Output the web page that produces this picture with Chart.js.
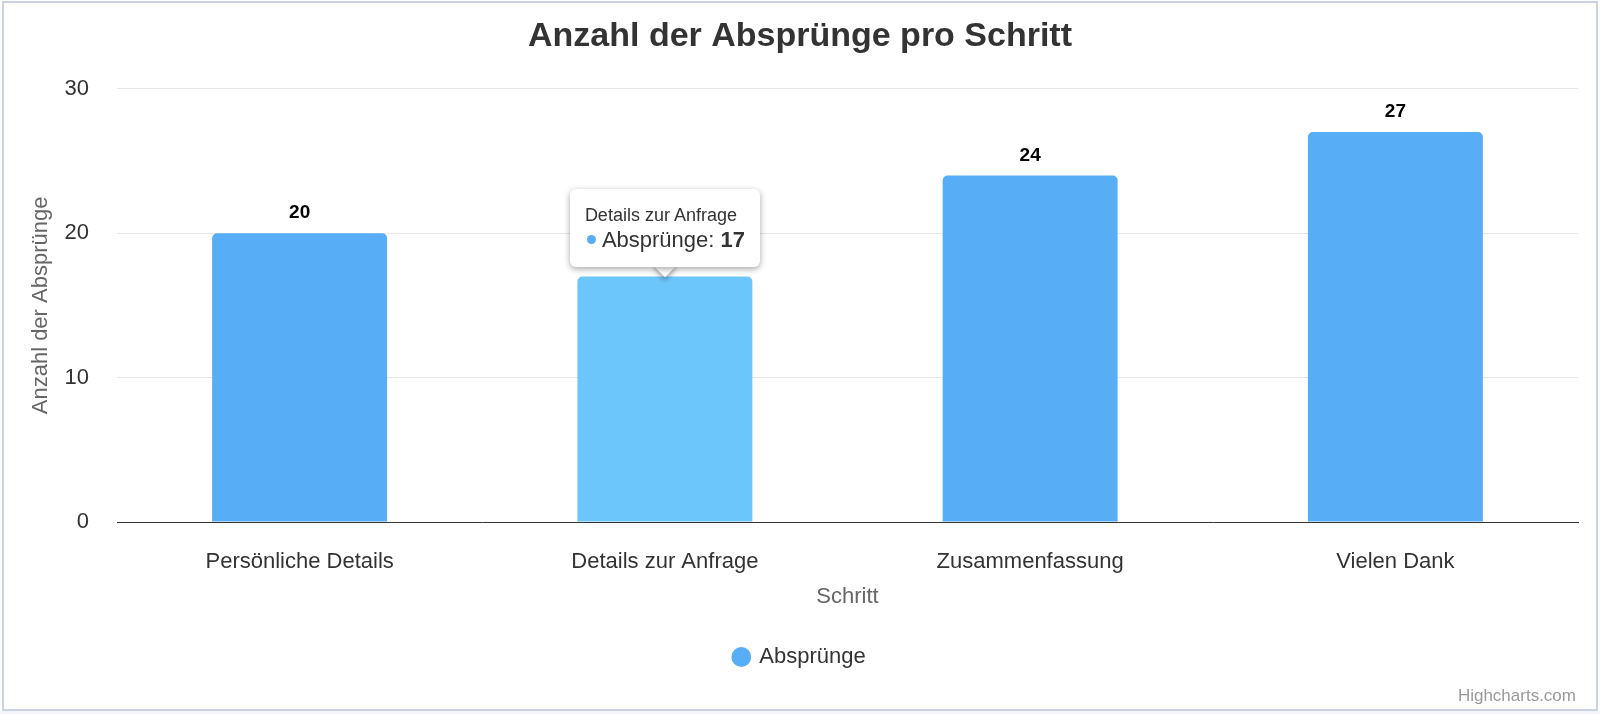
<!DOCTYPE html>
<html lang="de">
<head>
<meta charset="utf-8">
<title>Anzahl der Absprünge pro Schritt</title>
<script src="https://cdn.jsdelivr.net/npm/chart.js@4.4.1/dist/chart.umd.min.js"></script>
<style>
  html, body { margin: 0; padding: 0; background: #fff; }
  .wrap { position: relative; width: 1600px; height: 714px; overflow: hidden; }
  .frame {
    position: absolute; left: 2px; top: 1px; width: 1592px; height: 706px;
    border: 2px solid #cdd1e4; pointer-events: none;
  }
  .band { position: absolute; left: 0; top: 711px; width: 1600px; height: 3px; background: #f4f5fa; }
  .credits {
    position: absolute; right: 24px; top: 686px;
    font: 17px "Liberation Sans", Arial, sans-serif; color: #999;
  }
  .tip {
    position: absolute; pointer-events: none; display: none;
    font-family: "Liberation Sans", Arial, sans-serif;
  }
  .tip-box {
    position: relative; background: #fff; border-radius: 6px;
    box-shadow: 0 2px 6px rgba(0,0,0,0.35);
    padding: 15px 15px 13px 15px; box-sizing: border-box; z-index: 2;
  }
  .tip-caret {
    position: absolute; width: 16px; height: 16px; background: #fff;
    transform: rotate(45deg); box-shadow: 2px 2px 5px rgba(0,0,0,0.35); z-index: 1;
  }
  .tip-title { font-size: 18px; color: #333; line-height: 22px; }
  .tip-body { font-size: 22px; color: #333; line-height: 28px; white-space: nowrap; }
  .tip-dot {
    display: inline-block; width: 9px; height: 9px; border-radius: 50%;
    margin: 0 6px 3px 2px; vertical-align: middle;
  }
</style>
</head>
<body>
<div class="wrap">
  <canvas id="dropChart" width="1600" height="714"></canvas>
  <div class="tip" id="tip">
    <div class="tip-caret" id="tipCaret"></div>
    <div class="tip-box" id="tipBox"></div>
  </div>
  <div class="band"></div>
  <div class="frame"></div>
  <div class="credits">Highcharts.com</div>
</div>
<script>
// Daten aus dem Diagramm
const steps = ["Persönliche Details", "Details zur Anfrage", "Zusammenfassung", "Vielen Dank"];
const dropCounts = [20, 17, 24, 27];
const yTicks = [0, 10, 20, 30];
const seriesName = "Absprünge";
const activeStep = 1; // Balken mit Tooltip

const barColor = "#57adf6";
const barHover = "#6dc6fb";

Chart.defaults.font.family = '"Liberation Sans", Arial, sans-serif';
Chart.defaults.color = "#333";

// Werte über den Balken
const valueLabels = {
  id: "valueLabels",
  afterDatasetsDraw(chart) {
    const ctx = chart.ctx;
    const meta = chart.getDatasetMeta(0);
    ctx.save();
    ctx.font = 'bold 19px "Liberation Sans", Arial, sans-serif';
    ctx.fillStyle = "#000";
    ctx.textAlign = "center";
    ctx.textBaseline = "middle";
    meta.data.forEach((bar, i) => {
      ctx.fillText(String(dropCounts[i]), bar.x, bar.y - 20);
    });
    ctx.restore();
  },
};

function externalTooltip(context) {
  const tooltip = context.tooltip;
  const tip = document.getElementById("tip");
  const box = document.getElementById("tipBox");
  const caret = document.getElementById("tipCaret");
  if (tooltip.opacity === 0 || !tooltip.dataPoints || !tooltip.dataPoints.length) {
    tip.style.display = "none";
    return;
  }
  const dp = tooltip.dataPoints[0];
  box.innerHTML = `
      <div class="tip-title">${tooltip.title[0]}</div>
      <div class="tip-body"><span class="tip-dot" style="background:${barColor}"></span>${dp.dataset.label}: <b>${dp.raw}</b></div>
  `;
  tip.style.display = "block";
  const w = box.offsetWidth;
  const h = box.offsetHeight;
  tip.style.left = (tooltip.caretX - w / 2) + "px";
  tip.style.top = (tooltip.caretY - 10 - h) + "px";
  caret.style.left = (w / 2 - 8) + "px";
  caret.style.top = (h - 9) + "px";
}

const chart = new Chart(document.getElementById("dropChart"), {
  type: "bar",
  data: {
    labels: steps,
    datasets: [
      {
        label: seriesName,
        data: dropCounts,
        backgroundColor: barColor,
        hoverBackgroundColor: barHover,
        borderRadius: 5,
        borderSkipped: "start",
        categoryPercentage: 1,
        barPercentage: 0.479,
      },
    ],
  },
  options: {
    responsive: false,
    animation: false,
    events: [],
    layout: { padding: { top: 0, left: 22, right: 22, bottom: 36 } },
    plugins: {
      title: {
        display: true,
        text: "Anzahl der Absprünge pro Schritt",
        color: "#333",
        font: { size: 34, weight: "bold" },
        padding: { top: 16, bottom: 32 },
      },
      legend: {
        position: "bottom",
        labels: {
          usePointStyle: true,
          pointStyle: "circle",
          boxWidth: 14,
          boxHeight: 14,
          padding: 10,
          color: "#333",
          font: { size: 22 },
        },
      },
      tooltip: {
        enabled: false,
        external: externalTooltip,
        yAlign: "bottom",
        caretSize: 10,
      },
    },
    scales: {
      x: {
        grid: { display: false, drawTicks: false },
        border: { display: true, color: "#333", width: 1 },
        ticks: { color: "#333", font: { size: 22 }, padding: 27 },
        title: {
          display: true,
          text: "Schritt",
          color: "#666",
          font: { size: 22 },
          padding: { top: 0, bottom: 26 },
        },
        afterFit(scale) {
          scale.height = scale.chart.height - 36 - scale.chart.legend.height - 522;
        },
      },
      y: {
        min: 0,
        max: 30,
        afterBuildTicks(scale) {
          scale.ticks = yTicks.map((v) => ({ value: v }));
        },
        grid: {
          drawTicks: false,
          color: (c) => (c.tick && c.tick.value === 0 ? "rgba(0,0,0,0)" : "#e6e6e6"),
          lineWidth: 1,
        },
        border: { display: false },
        ticks: { color: "#333", font: { size: 22 }, padding: 28 },
        title: {
          display: true,
          text: "Anzahl der Absprünge",
          color: "#666",
          font: { size: 22 },
          padding: { top: 6, bottom: 0 },
        },
        afterFit(scale) {
          scale.width = 117 - 22;
        },
      },
    },
  },
  plugins: [valueLabels],
});

// Tooltip und Hover-Zustand für "Details zur Anfrage" setzen
const activeBar = chart.getDatasetMeta(0).data[activeStep];
chart.setActiveElements([{ datasetIndex: 0, index: activeStep }]);
chart.tooltip.setActiveElements([{ datasetIndex: 0, index: activeStep }], { x: activeBar.x, y: activeBar.y });
chart.update();
</script>
</body>
</html>
